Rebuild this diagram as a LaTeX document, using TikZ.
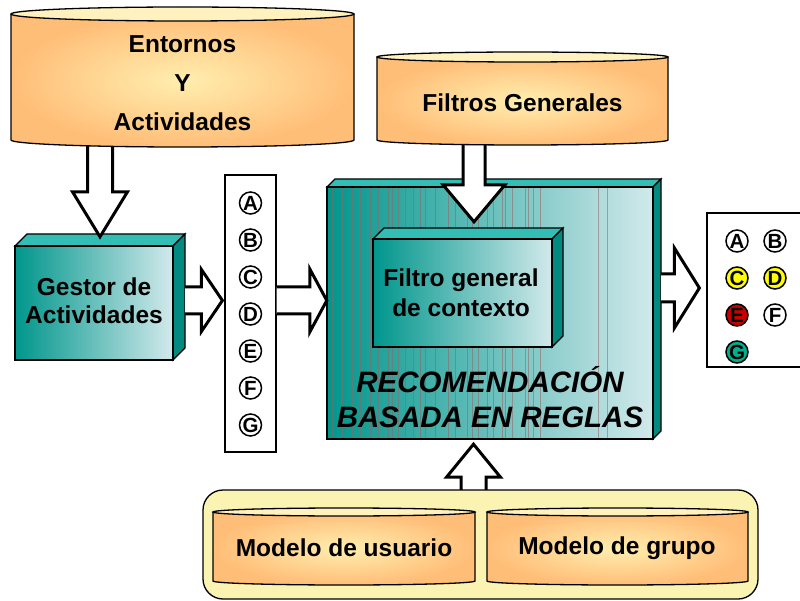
\documentclass[tikz,border=0pt]{standalone}
\usepackage{fontspec}
\setmainfont{Liberation Sans}
\usetikzlibrary{calc}
\definecolor{cylO}{RGB}{255,190,120}
\definecolor{cylY}{RGB}{255,238,175}
\definecolor{cylTop}{RGB}{255,242,190}
\definecolor{tealD}{RGB}{0,150,140}
\definecolor{tealL}{RGB}{210,233,235}
\definecolor{tealTop}{RGB}{50,190,180}
\definecolor{tealSide}{RGB}{0,138,128}
\definecolor{contY}{RGB}{250,243,178}
\definecolor{lineR}{RGB}{150,100,100}
\definecolor{yelC}{RGB}{255,255,0}
\definecolor{redE}{RGB}{200,0,0}
\definecolor{grnG}{RGB}{0,175,140}

\newcommand\cylinderbox[6]{%
  \pgfmathsetmacro\cylcx{(#2+#3)/2}%
  \pgfmathsetmacro\cylrx{(#3-#2)/2}%
  \path[inner color=cylY, outer color=cylO] (#2,-#4) -- (#2,-#5) arc[start angle=180,end angle=360,x radius=\cylrx,y radius=#6] -- (#3,-#4) -- cycle;
  \draw[line width=1.3pt] (#2,-#4) -- (#2,-#5) arc[start angle=180,end angle=360,x radius=\cylrx,y radius=#6] -- (#3,-#4);
  \draw[line width=1.3pt, fill=cylTop] (\cylcx,-#4) ellipse[x radius=\cylrx, y radius=#6];
  \node[inner sep=0pt, minimum width=#3-#2, minimum height=#5-#4] (#1) at (\cylcx,{-(#4+#5)/2}) {};
}
\newcommand\tealbox[6]{%
  \draw[line width=1.2pt, fill=tealTop] (#2,-#3) -- (#2+#6,-#3+#6) -- (#4+#6,-#3+#6) -- (#4,-#3) -- cycle;
  \draw[line width=1.2pt, fill=tealSide] (#4,-#3) -- (#4+#6,-#3+#6) -- (#4+#6,-#5+#6) -- (#4,-#5) -- cycle;
  \draw[line width=1.2pt, left color=tealD, right color=tealL] (#2,-#3) rectangle (#4,-#5);
  \node[inner sep=0pt, minimum width=#4-#2, minimum height=#5-#3] (#1) at ({(#2+#4)/2},{-(#3+#5)/2}) {};
}
\newcommand\barrow[5]{%
  \path[blockarrow] let \p1=#1, \p2=#2, \n1={atan2(\y2-\y1,\x2-\x1)}, \n2={veclen(\x2-\x1,\y2-\y1)} in
    [shift={(\p1)}, rotate=\n1] (0,-#3) -- (\n2-#5,-#3) -- (\n2-#5,-#4) -- (\n2,0) -- (\n2-#5,#4) -- (\n2-#5,#3) -- (0,#3);
}

\tikzset{
  blockarrow/.style={draw, fill=white, line width=3pt, line join=miter},
  lbl/.style={align=center, inner sep=0pt, font=\fontsize{24.5}{39}\selectfont\bfseries},
  lblb/.style={align=center, inner sep=0pt, font=\fontsize{24.5}{28}\selectfont\bfseries},
  lblc/.style={align=center, inner sep=0pt, font=\fontsize{24.5}{30}\selectfont\bfseries},
  lbli/.style={align=center, inner sep=0pt, font=\fontsize{29.5}{35}\selectfont\bfseries\itshape},
  cl/.style={circle, draw, line width=1.5pt, minimum size=22pt, inner sep=0pt, fill=white,
             font=\fontsize{20.5}{20.5}\selectfont\bfseries},
  vline/.style={draw=lineR, line width=0.5pt, opacity=0.55},
  whitebox/.style={draw, line width=1.2pt, fill=white, inner sep=0pt}
}

\begin{document}
\begin{tikzpicture}[x=1pt,y=1pt]
\useasboundingbox (0,0) rectangle (800,-601);

% main box
\tealbox{main}{327}{187}{653}{439}{8}
\foreach \lx in {332,337,342,347,352,357,360,365,370,378,388,392,398,405,413,420,425,435,448,455,467,472,478,487,493,502,505,512,525,528,533,540,598,607}
  \draw[vline] (\lx,-188) -- (\lx,-438);
\tealbox{inner}{373}{239}{552}{347}{11}

% output box
\node[whitebox, minimum width=103, minimum height=154] (out) at (758.5,-290) {};
\node[cl] (oA) at (737,-241) {A};
\node[cl] (oB) at (775,-241) {B};
\node[cl, fill=yelC] (oC) at (737,-278) {C};
\node[cl, fill=yelC] (oD) at (775,-278) {D};
\node[cl, fill=redE] (oE) at (737,-315) {E};
\node[cl] (oF) at (775,-315) {F};
\node[cl, fill=grnG] (oG) at (737,-352) {G};

% column box
\node[whitebox, minimum width=51, minimum height=277] (col) at (250.5,-313.5) {};
\foreach \L [count=\i from 0] in {A,B,C,D,E,F,G}
  \node[cl] (c\L) at (250.5,{-(203+37*\i)}) {\L};

% gestor box
\tealbox{gest}{15}{246}{173}{360}{12}

% arrows
\barrow{($(gest.north)+(6,107)$)}{($(gest.north)+(6,9)$)}{12.5}{27.5}{45}
\barrow{($(main.north)+(-16,47)$)}{($(main.north)+(-16,-35)$)}{11}{31}{37}
\barrow{($(gest.east)+(12,2.5)$)}{($(col.west)+(-2,13)$)}{13.5}{31}{21}
\barrow{($(col.east)+(0,13)$)}{($(main.west)+(0,12.5)$)}{13.5}{31.5}{17}
\barrow{($(main.east)+(8,25)$)}{($(out.west)+(-7,2)$)}{14}{40}{25}
\barrow{($(main.south)+(-16.5,-56)$)}{($(main.south)+(-16.5,-5)$)}{12.5}{27}{33}

% container
\draw[rounded corners=20pt, fill=contY, line width=1.3pt] (203,-490) rectangle (758,-599);
\node[inner sep=0pt, minimum width=555, minimum height=109] (cont) at (480.5,-544.5) {};
\cylinderbox{usu}{213}{475}{512}{581}{4}
\cylinderbox{grp}{487}{748}{512}{581}{4}

% top cylinders
\cylinderbox{ent}{11}{354}{14}{140}{7}
\cylinderbox{filt}{377}{668}{57}{140}{5}

% texts
\node[lbl] (entT) at (182.5,-83) {Entornos\\Y\\Actividades};
\node[lbl] (filtT) at (522.5,-103) {Filtros Generales};
\node[lblb] (gestT) at (94,-301) {Gestor de\\Actividades};
\node[lblc] (innT) at (461,-293) {Filtro general\\de contexto};
\node[lbli] (mainT) at (490,-397) {RECOMENDACIÓN\\BASADA EN REGLAS};
\node[lbl] (usuT) at (344,-548) {Modelo de usuario};
\node[lbl] (grpT) at (617,-548) {Modelo de grupo};
\end{tikzpicture}
\end{document}
